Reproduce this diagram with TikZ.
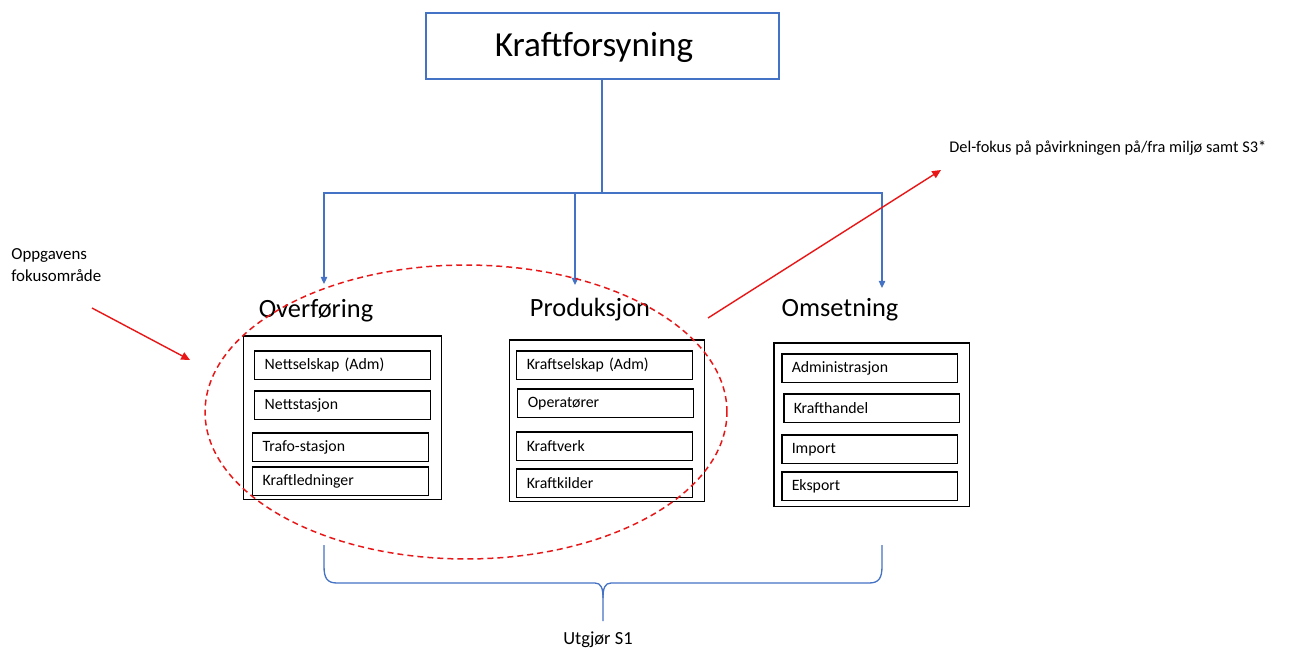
\documentclass[tikz,border=0pt]{standalone}
\usepackage{fontspec}
\setmainfont{Carlito}
\usetikzlibrary{arrows.meta,shapes.geometric}
\definecolor{linkblue}{RGB}{68,114,196}
\definecolor{markred}{RGB}{232,22,22}
\tikzset{
  headbox/.style={draw=linkblue, line width=0.75pt, minimum width=7.06cm, minimum height=1.32cm, inner sep=0pt},
  headtext/.style={inner sep=0pt, font=\fontsize{20}{24}\selectfont},
  grouphead/.style={inner sep=0pt, font=\fontsize{15}{18}\selectfont},
  groupbox/.style={draw=black, line width=0.85pt, inner sep=0pt, anchor=north west},
  itembox/.style={draw=black, line width=0.85pt, anchor=north west, minimum width=3.52cm, minimum height=0.58cm,
    text width=3.12cm, inner xsep=0.2cm, inner ysep=0pt, align=left, font=\fontsize{9}{11}\selectfont},
  tree/.style={draw=linkblue, line width=0.75pt},
  treearrow/.style={tree, -{Triangle[length=4pt,width=3.6pt]}},
  focus/.style={draw=markred, line width=0.8pt, -{Triangle[length=5pt,width=4.5pt]}},
  note/.style={inner sep=0pt, font=\fontsize{9.6}{12.5}\selectfont}
}
\begin{document}
\begin{tikzpicture}[x=0.02cm, y=-0.02cm]
\useasboundingbox (0,0) rectangle (1295,650);

% top node
\node[headbox] (top) at (602.5,46) {};
\node[headtext] (topText) at (594,47) {Kraftforsyning};

% branching tree
\coordinate (fork) at (602,193);
\coordinate (endA) at (324,284);
\coordinate (endB) at (575,285);
\coordinate (endC) at (882,288);
\draw[tree] (top.south -| fork) -- (fork);
\draw[treearrow] (fork) -| (endA);
\draw[treearrow] (fork) -| (endB);
\draw[treearrow] (fork) -| (endC);

% group headings
\node[grouphead] (hA) at (316,311) {Overføring};
\node[grouphead] (hB) at (590,310) {Produksjon};
\node[grouphead] (hC) at (840,310) {Omsetning};

% Overføring
\node[groupbox, minimum width=3.96cm, minimum height=3.28cm] (gA) at (243,335) {};
\node[itembox] (a1) at (254,350) {Nettselskap (Adm)};
\node[itembox] (a2) at (254,390) {Nettstasjon};
\node[itembox] (a3) at (252,432) {Trafo-stasjon};
\node[itembox] (a4) at (252,466) {Kraftledninger};

% Produksjon
\node[groupbox, minimum width=3.90cm, minimum height=3.24cm] (gB) at (509,339) {};
\node[itembox] (b1) at (516,350) {Kraftselskap (Adm)};
\node[itembox] (b2) at (517,388) {Operatører};
\node[itembox] (b3) at (516,431) {Kraftverk};
\node[itembox] (b4) at (516,468) {Kraftkilder};

% Omsetning
\node[groupbox, minimum width=3.92cm, minimum height=3.28cm] (gC) at (773,342) {};
\node[itembox] (c1) at (781,353) {Administrasjon};
\node[itembox] (c2) at (783,393) {Krafthandel};
\node[itembox] (c3) at (781,434) {Import};
\node[itembox] (c4) at (781,471) {Eksport};

% focus area
\node[ellipse, draw=markred, line width=0.85pt, dash pattern=on 3.4pt off 2.3pt,
      minimum width=10.44cm, minimum height=5.88cm, inner sep=0pt] (focusarea) at (466,412) {};

% left note and arrow
\node[note, anchor=north west, align=left] (oppg) at (11,248) {Oppgavens\\fokusområde};
\coordinate (oppgFrom) at (92,308);
\coordinate (oppgTo) at (190,360);
\draw[focus] (oppgFrom) -- (oppgTo);

% right note and arrow
\node[note, anchor=west, font=\fontsize{9.3}{12}\selectfont] (delfokus) at (949,148) {Del-fokus på påvirkningen på/fra miljø samt S3*};
\coordinate (delFrom) at (708,318);
\coordinate (delTo) at (941,170);
\draw[focus] (delFrom) -- (delTo);

% brace underneath
\coordinate (brL) at (324,545);
\coordinate (brR) at (882,545);
\coordinate (brTip) at (603,621);
\draw[tree] (brL) -- (324,566) .. controls (324,578) and (327,583) .. (337,583) -- (595,583)
  .. controls (601,583) and (603,588) .. (603,598) -- (brTip);
\draw[tree] (brR) -- (882,566) .. controls (882,578) and (879,583) .. (869,583) -- (611,583)
  .. controls (605,583) and (603,588) .. (603,598);
\node[inner sep=0pt, font=\fontsize{10.5}{12}\selectfont] (s1) at (598,640) {Utgjør S1};
\end{tikzpicture}
\end{document}
